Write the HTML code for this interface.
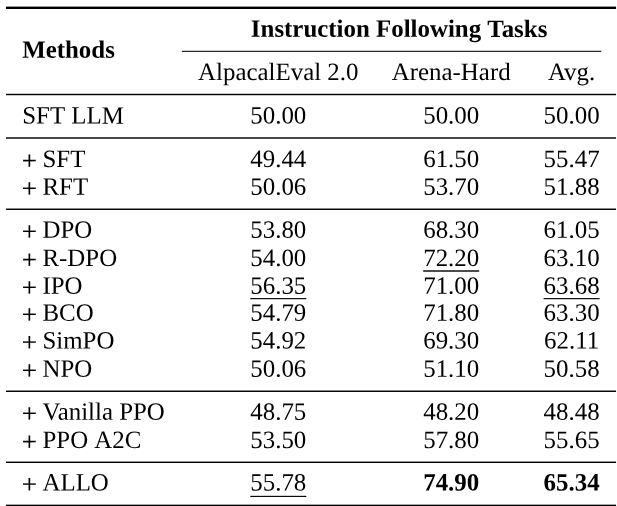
<!DOCTYPE html>
<html lang="en"><head><meta charset="utf-8"><title>Instruction Following Tasks</title>
<style>
html,body{margin:0;padding:0;background:#fff;}
body{width:617px;height:506px;position:relative;overflow:hidden;font-family:"Liberation Serif","Times New Roman",Times,serif;font-size:24.9px;color:#000;text-rendering:geometricPrecision;}
svg{position:absolute;left:0;top:0;}
.t{position:absolute;left:0;top:0;white-space:nowrap;line-height:28.0px;height:28.0px;}
.b{font-weight:bold;}
.p{display:inline-block;transform:translate(0.15px,1.95px) scale(1.085,1.05);-webkit-text-stroke:0.2px #000;}
</style></head><body>
<svg width="617" height="506" viewBox="0 0 617 506" fill="#000">
<rect x="5.95" y="6.60" width="610.10" height="2.40"/>
<rect x="181.90" y="50.80" width="419.40" height="1.05"/>
<rect x="5.95" y="93.78" width="610.10" height="1.44"/>
<rect x="5.95" y="137.28" width="610.10" height="1.44"/>
<rect x="5.95" y="208.53" width="610.10" height="1.44"/>
<rect x="5.95" y="390.53" width="610.10" height="1.44"/>
<rect x="5.95" y="461.58" width="610.10" height="1.44"/>
<rect x="5.95" y="504.65" width="610.10" height="2.35"/>
<rect x="423.19" y="270.30" width="56.02" height="1.40"/>
<rect x="250.29" y="298.07" width="56.02" height="1.15"/>
<rect x="543.59" y="298.07" width="56.02" height="1.15"/>
<rect x="250.29" y="495.82" width="56.02" height="1.15"/>
</svg>
<div class="t c b" style="transform:translate(399.10px,15.80px) translateX(-50%) rotate(0.05deg)">Instruction&nbsp;Following&nbsp;Tasks</div>
<div class="t b" style="transform:translate(22.20px,36.80px) rotate(0.05deg)">Methods</div>
<div class="t c" style="transform:translate(278.30px,59.05px) translateX(-50%) rotate(0.05deg)">AlpacalEval&nbsp;2.0</div>
<div class="t c" style="transform:translate(451.20px,59.05px) translateX(-50%) rotate(0.05deg)">Arena-Hard</div>
<div class="t c" style="transform:translate(571.60px,59.05px) translateX(-50%) rotate(0.05deg)">Avg.</div>
<div class="t" style="transform:translate(22.20px,102.60px) rotate(0.05deg)">SFT&nbsp;LLM</div>
<div class="t c" style="transform:translate(278.30px,102.60px) translateX(-50%) rotate(0.05deg)">50.00</div>
<div class="t c" style="transform:translate(451.20px,102.60px) translateX(-50%) rotate(0.05deg)">50.00</div>
<div class="t c" style="transform:translate(571.60px,102.60px) translateX(-50%) rotate(0.05deg)">50.00</div>
<div class="t" style="transform:translate(22.20px,145.95px) rotate(0.05deg)"><span class="p">+</span>&nbsp;SFT</div>
<div class="t c" style="transform:translate(278.30px,145.95px) translateX(-50%) rotate(0.05deg)">49.44</div>
<div class="t c" style="transform:translate(451.20px,145.95px) translateX(-50%) rotate(0.05deg)">61.50</div>
<div class="t c" style="transform:translate(571.60px,145.95px) translateX(-50%) rotate(0.05deg)">55.47</div>
<div class="t" style="transform:translate(22.20px,173.82px) rotate(0.05deg)"><span class="p">+</span>&nbsp;RFT</div>
<div class="t c" style="transform:translate(278.30px,173.82px) translateX(-50%) rotate(0.05deg)">50.06</div>
<div class="t c" style="transform:translate(451.20px,173.82px) translateX(-50%) rotate(0.05deg)">53.70</div>
<div class="t c" style="transform:translate(571.60px,173.82px) translateX(-50%) rotate(0.05deg)">51.88</div>
<div class="t" style="transform:translate(22.20px,216.85px) rotate(0.05deg)"><span class="p">+</span>&nbsp;DPO</div>
<div class="t c" style="transform:translate(278.30px,216.85px) translateX(-50%) rotate(0.05deg)">53.80</div>
<div class="t c" style="transform:translate(451.20px,216.85px) translateX(-50%) rotate(0.05deg)">68.30</div>
<div class="t c" style="transform:translate(571.60px,216.85px) translateX(-50%) rotate(0.05deg)">61.05</div>
<div class="t" style="transform:translate(22.20px,245.00px) rotate(0.05deg)"><span class="p">+</span>&nbsp;R-DPO</div>
<div class="t c" style="transform:translate(278.30px,245.00px) translateX(-50%) rotate(0.05deg)">54.00</div>
<div class="t c" style="transform:translate(451.20px,245.00px) translateX(-50%) rotate(0.05deg)">72.20</div>
<div class="t c" style="transform:translate(571.60px,245.00px) translateX(-50%) rotate(0.05deg)">63.10</div>
<div class="t" style="transform:translate(22.20px,272.80px) rotate(0.05deg)"><span class="p">+</span>&nbsp;IPO</div>
<div class="t c" style="transform:translate(278.30px,272.80px) translateX(-50%) rotate(0.05deg)">56.35</div>
<div class="t c" style="transform:translate(451.20px,272.80px) translateX(-50%) rotate(0.05deg)">71.00</div>
<div class="t c" style="transform:translate(571.60px,272.80px) translateX(-50%) rotate(0.05deg)">63.68</div>
<div class="t" style="transform:translate(22.20px,299.65px) rotate(0.05deg)"><span class="p">+</span>&nbsp;BCO</div>
<div class="t c" style="transform:translate(278.30px,299.65px) translateX(-50%) rotate(0.05deg)">54.79</div>
<div class="t c" style="transform:translate(451.20px,299.65px) translateX(-50%) rotate(0.05deg)">71.80</div>
<div class="t c" style="transform:translate(571.60px,299.65px) translateX(-50%) rotate(0.05deg)">63.30</div>
<div class="t" style="transform:translate(22.20px,327.50px) rotate(0.05deg)"><span class="p">+</span>&nbsp;SimPO</div>
<div class="t c" style="transform:translate(278.30px,327.50px) translateX(-50%) rotate(0.05deg)">54.92</div>
<div class="t c" style="transform:translate(451.20px,327.50px) translateX(-50%) rotate(0.05deg)">69.30</div>
<div class="t c" style="transform:translate(571.60px,327.50px) translateX(-50%) rotate(0.05deg)">62.11</div>
<div class="t" style="transform:translate(22.20px,355.70px) rotate(0.05deg)"><span class="p">+</span>&nbsp;NPO</div>
<div class="t c" style="transform:translate(278.30px,355.70px) translateX(-50%) rotate(0.05deg)">50.06</div>
<div class="t c" style="transform:translate(451.20px,355.70px) translateX(-50%) rotate(0.05deg)">51.10</div>
<div class="t c" style="transform:translate(571.60px,355.70px) translateX(-50%) rotate(0.05deg)">50.58</div>
<div class="t" style="transform:translate(22.20px,398.80px) rotate(0.05deg)"><span class="p">+</span>&nbsp;Vanilla&nbsp;PPO</div>
<div class="t c" style="transform:translate(278.30px,398.80px) translateX(-50%) rotate(0.05deg)">48.75</div>
<div class="t c" style="transform:translate(451.20px,398.80px) translateX(-50%) rotate(0.05deg)">48.20</div>
<div class="t c" style="transform:translate(571.60px,398.80px) translateX(-50%) rotate(0.05deg)">48.48</div>
<div class="t" style="transform:translate(22.20px,427.05px) rotate(0.05deg)"><span class="p">+</span>&nbsp;PPO&nbsp;A2C</div>
<div class="t c" style="transform:translate(278.30px,427.05px) translateX(-50%) rotate(0.05deg)">53.50</div>
<div class="t c" style="transform:translate(451.20px,427.05px) translateX(-50%) rotate(0.05deg)">57.80</div>
<div class="t c" style="transform:translate(571.60px,427.05px) translateX(-50%) rotate(0.05deg)">55.65</div>
<div class="t" style="transform:translate(22.20px,469.55px) rotate(0.05deg)"><span class="p">+</span>&nbsp;ALLO</div>
<div class="t c" style="transform:translate(278.30px,469.55px) translateX(-50%) rotate(0.05deg)">55.78</div>
<div class="t c b" style="transform:translate(451.20px,469.55px) translateX(-50%) rotate(0.05deg)">74.90</div>
<div class="t c b" style="transform:translate(571.60px,469.55px) translateX(-50%) rotate(0.05deg)">65.34</div>
</body></html>
